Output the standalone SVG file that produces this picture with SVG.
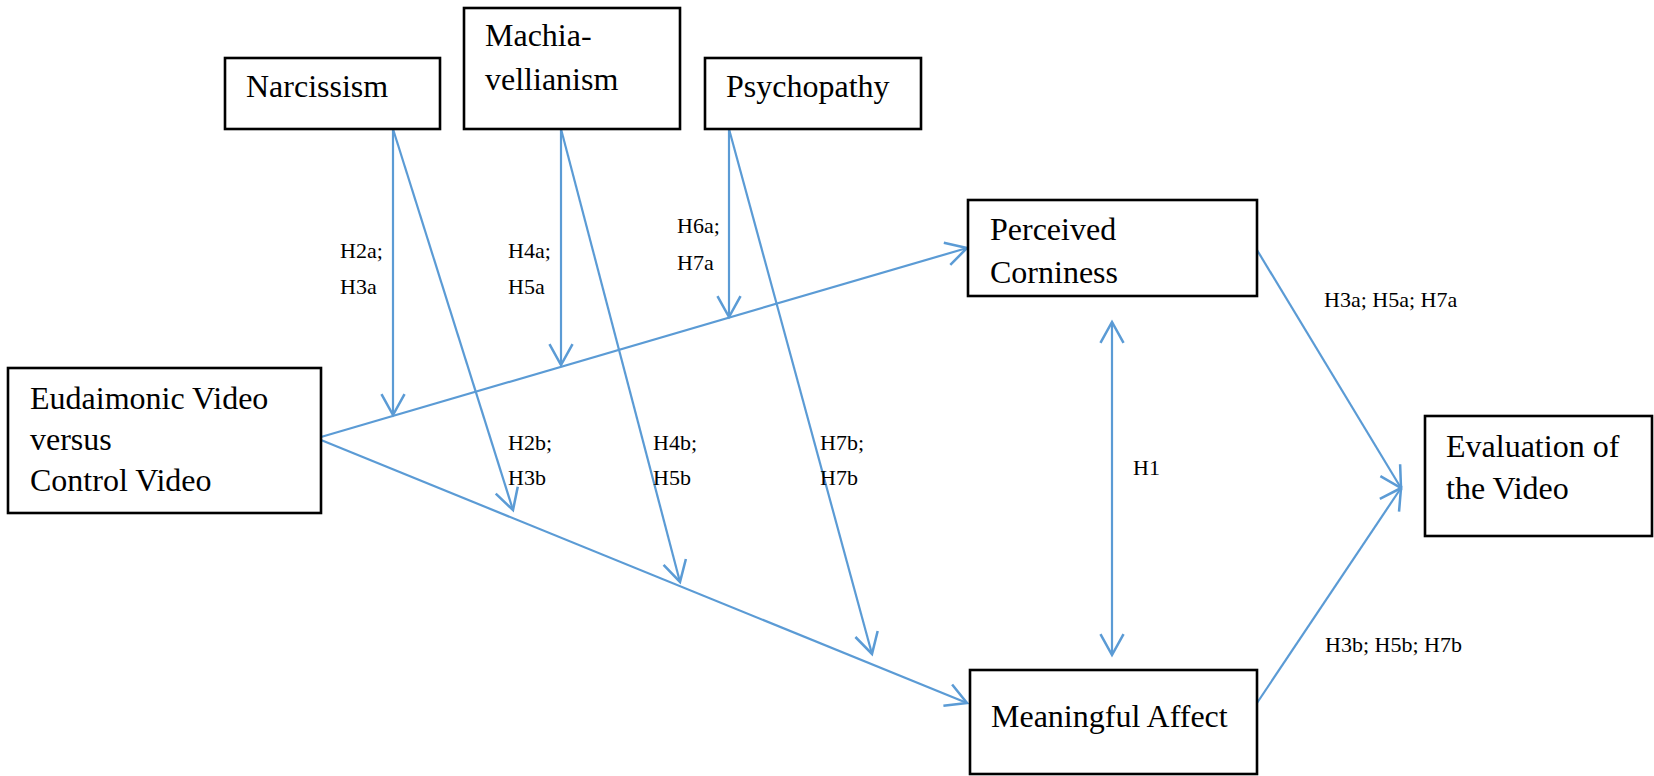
<svg xmlns="http://www.w3.org/2000/svg" width="1654" height="776" viewBox="0 0 1654 776">
<style>
.box{fill:#fff;stroke:#000;stroke-width:2.6}
.t{font-family:'Liberation Serif',serif;font-size:32px;fill:#000}
.l{font-family:'Liberation Serif',serif;font-size:22px;fill:#000}
.c{fill:none;stroke:#5B9BD5;stroke-width:2.2}
</style>
<defs>
<marker id="ah" markerUnits="userSpaceOnUse" markerWidth="30" markerHeight="30" viewBox="-22 -12 26 24" refX="0" refY="0" orient="auto-start-reverse">
<path d="M-18,-10 L0,0 L-18,10" fill="none" stroke="#5B9BD5" stroke-width="2.2"/>
</marker>
</defs>
<rect width="1654" height="776" fill="#fff"/>
<g id="connectors">
<line class="c" x1="321" y1="437" x2="967" y2="248" marker-end="url(#ah)"/>
<line class="c" x1="321" y1="440" x2="967" y2="703" marker-end="url(#ah)"/>
<line class="c" x1="393" y1="129" x2="393" y2="415" marker-end="url(#ah)"/>
<line class="c" x1="393" y1="129" x2="513" y2="510" marker-end="url(#ah)"/>
<line class="c" x1="561" y1="129" x2="561" y2="365" marker-end="url(#ah)"/>
<line class="c" x1="561" y1="129" x2="680" y2="582" marker-end="url(#ah)"/>
<line class="c" x1="729" y1="129" x2="729" y2="317" marker-end="url(#ah)"/>
<line class="c" x1="729" y1="129" x2="872" y2="654" marker-end="url(#ah)"/>
<line class="c" x1="1112" y1="322" x2="1112" y2="655" marker-start="url(#ah)" marker-end="url(#ah)"/>
<line class="c" x1="1257" y1="250" x2="1401" y2="488" marker-end="url(#ah)"/>
<line class="c" x1="1257" y1="703" x2="1401" y2="488" marker-end="url(#ah)"/>
</g>
<g id="labels">
<text class="l" x="340" y="258">H2a;</text>
<text class="l" x="340" y="294">H3a</text>
<text class="l" x="508" y="258">H4a;</text>
<text class="l" x="508" y="294">H5a</text>
<text class="l" x="677" y="233">H6a;</text>
<text class="l" x="677" y="270">H7a</text>
<text class="l" x="508" y="450">H2b;</text>
<text class="l" x="508" y="485">H3b</text>
<text class="l" x="653" y="450">H4b;</text>
<text class="l" x="653" y="485">H5b</text>
<text class="l" x="820" y="450">H7b;</text>
<text class="l" x="820" y="485">H7b</text>
<text class="l" x="1133" y="475">H1</text>
<text class="l" x="1324" y="307">H3a; H5a; H7a</text>
<text class="l" x="1325" y="652">H3b; H5b; H7b</text>
</g>
<g id="narcissism">
<rect class="box" x="225" y="58" width="215" height="71"/>
<text class="t" x="246" y="97">Narcissism</text>
</g>
<g id="machiavellianism">
<rect class="box" x="464" y="8" width="216" height="121"/>
<text class="t" x="485" y="46">Machia-</text>
<text class="t" x="485" y="90">vellianism</text>
</g>
<g id="psychopathy">
<rect class="box" x="705" y="58" width="216" height="71"/>
<text class="t" x="726" y="97">Psychopathy</text>
</g>
<g id="corniness">
<rect class="box" x="968" y="200" width="289" height="96"/>
<text class="t" x="990" y="240">Perceived</text>
<text class="t" x="990" y="283">Corniness</text>
</g>
<g id="video">
<rect class="box" x="8" y="368" width="313" height="145"/>
<text class="t" x="30" y="409">Eudaimonic Video</text>
<text class="t" x="30" y="450">versus</text>
<text class="t" x="30" y="491">Control Video</text>
</g>
<g id="evaluation">
<rect class="box" x="1425" y="416" width="227" height="120"/>
<text class="t" x="1446" y="457">Evaluation of</text>
<text class="t" x="1446" y="499">the Video</text>
</g>
<g id="affect">
<rect class="box" x="970" y="670" width="287" height="104"/>
<text class="t" x="991" y="727">Meaningful Affect</text>
</g>
</svg>
